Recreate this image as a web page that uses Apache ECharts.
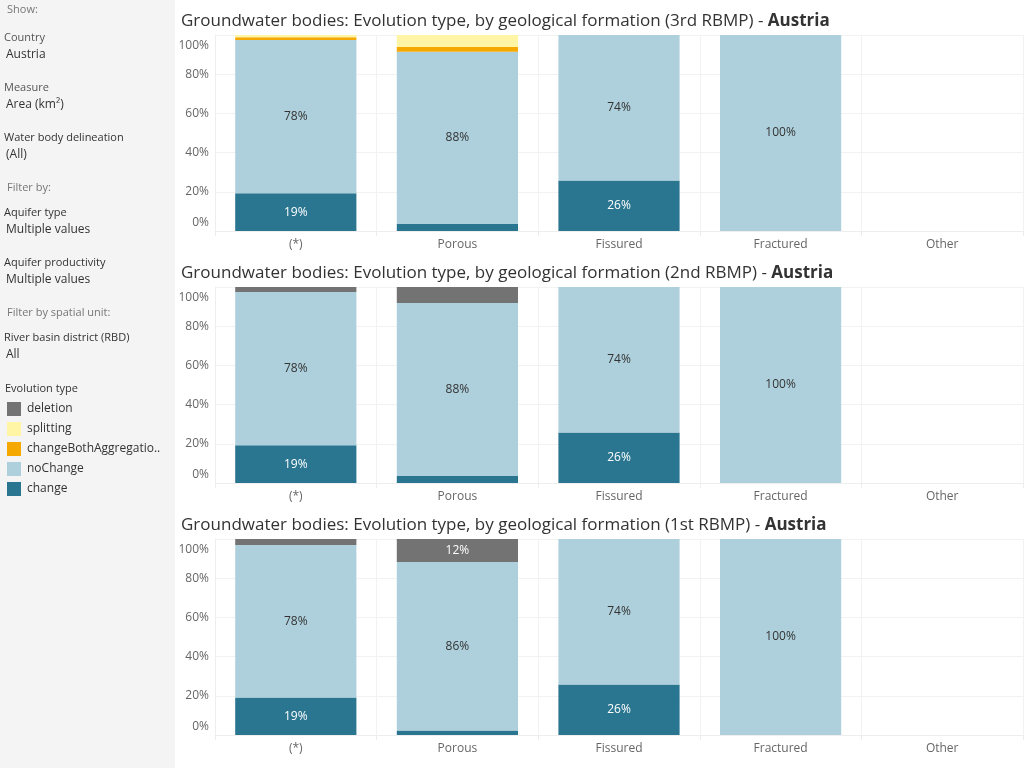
<!DOCTYPE html>
<html>
<head>
<meta charset="utf-8">
<script src="https://cdn.jsdelivr.net/npm/echarts@6/dist/echarts.min.js"></script>
<style>
  html, body { margin: 0; padding: 0; background: #fff; }
  #chart { width: 1024px; height: 768px; }
</style>
</head>
<body>
<div id="chart"></div>
<script>
// 类别与刻度
const categories = ['(*)', 'Porous', 'Fissured', 'Fractured', 'Other'];
const yTicks = [0, 20, 40, 60, 80, 100];
const plans = ['3rd RBMP', '2nd RBMP', '1st RBMP'];

// 3rd RBMP
const change3 = [19.3, 3.6, 25.8, 0, null];
const noChange3 = [78.2, 87.9, 74.2, 100, null];
const both3 = [1.3, 2.4, 0, 0, null];
const split3 = [1.2, 6.1, 0, 0, null];
const deletion3 = [0, 0, 0, 0, null];

// 2nd RBMP
const change2 = [19.3, 3.6, 25.8, 0, null];
const noChange2 = [78.2, 88.2, 74.2, 100, null];
const both2 = [0, 0, 0, 0, null];
const split2 = [0, 0, 0, 0, null];
const deletion2 = [2.5, 8.2, 0, 0, null];

// 1st RBMP
const change1 = [19.1, 2.3, 25.8, 0, null];
const noChange1 = [77.9, 86.0, 74.2, 100, null];
const both1 = [0, 0, 0, 0, null];
const split1 = [0, 0, 0, 0, null];
const deletion1 = [3.0, 11.7, 0, 0, null];

// 颜色
const COLORS = {
  deletion: '#737373',
  splitting: '#fff5a5',
  changeBoth: '#f5a800',
  noChange: '#aed0dc',
  change: '#2a7690'
};

const panelData = [
  { change: change3, noChange: noChange3, both: both3, split: split3, deletion: deletion3 },
  { change: change2, noChange: noChange2, both: both2, split: split2, deletion: deletion2 },
  { change: change1, noChange: noChange1, both: both1, split: split1, deletion: deletion1 }
];

const PANEL_TOP = 35, PANEL_H = 196, PANEL_STEP = 252;
const LEFT_W = 175;

const grids = [], xAxes = [], yAxes = [], titles = [], series = [];

function segLabel(dark) {
  return {
    show: true,
    position: 'inside',
    color: dark ? '#ffffff' : '#333333',
    fontSize: 12,
    fontFamily: 'Open Sans',
    formatter: p => (p.value >= 10 ? Math.round(p.value) + '%' : '')
  };
}

plans.forEach((plan, i) => {
  const top = PANEL_TOP + i * PANEL_STEP;
  grids.push({ left: 215, right: 1, top: top, height: PANEL_H });
  xAxes.push({
    type: 'category',
    gridIndex: i,
    data: categories,
    axisLine: { show: true, lineStyle: { color: '#eeeeee' } },
    axisTick: { show: true, length: 5, lineStyle: { color: '#eeeeee' } },
    splitLine: { show: true, lineStyle: { color: '#f2f2f2' } },
    axisLabel: { color: '#666666', fontSize: 12, margin: 8, fontFamily: 'Open Sans' }
  });
  yAxes.push({
    type: 'value',
    gridIndex: i,
    min: 0,
    max: 100,
    interval: 20,
    axisLine: { show: true, lineStyle: { color: '#eeeeee' } },
    axisTick: { show: false },
    splitLine: { show: true, lineStyle: { color: '#f2f2f2' } },
    axisLabel: {
      color: '#666666',
      fontSize: 12,
      margin: 6,
      lineHeight: 16,
      padding: [3, 0, 0, 0],
      fontFamily: 'Open Sans',
      formatter: v => (yTicks.includes(v) ? v + '%' : ''),
      verticalAlignMaxLabel: 'top',
      verticalAlignMinLabel: 'bottom'
    }
  });
  titles.push({
    text: '{n|Groundwater bodies: Evolution type, by geological formation (' + plan + ') - }{b|Austria}',
    left: 176,
    top: top - 27,
    textStyle: {
      fontWeight: 'normal',
      rich: {
        n: { fontSize: 17, color: '#333333', fontWeight: 'normal', fontFamily: 'Open Sans' },
        b: { fontSize: 17, color: '#333333', fontWeight: 'bold', fontFamily: 'Open Sans' }
      }
    }
  });

  const d = panelData[i];
  const stack = 'p' + i;
  const common = { type: 'bar', xAxisIndex: i, yAxisIndex: i, stack: stack, barWidth: '75%' };
  series.push(Object.assign({ name: 'change', data: d.change, itemStyle: { color: COLORS.change }, label: segLabel(true) }, common));
  series.push(Object.assign({ name: 'noChange', data: d.noChange, itemStyle: { color: COLORS.noChange }, label: segLabel(false) }, common));
  series.push(Object.assign({ name: 'changeBothAggregationSplitting', data: d.both, itemStyle: { color: COLORS.changeBoth }, label: segLabel(false) }, common));
  series.push(Object.assign({ name: 'splitting', data: d.split, itemStyle: { color: COLORS.splitting }, label: segLabel(false) }, common));
  series.push(Object.assign({ name: 'deletion', data: d.deletion, itemStyle: { color: COLORS.deletion }, label: segLabel(true) }, common));
});

// 左侧筛选面板
const sideTexts = [
  { t: 'Show:', x: 7, y: 10, c: '#777777', s: 11 },
  { t: 'Country', x: 4, y: 38, c: '#555555', s: 11 },
  { t: 'Austria', x: 6, y: 55, c: '#333333', s: 12 },
  { t: 'Measure', x: 4, y: 88, c: '#555555', s: 11 },
  { t: 'Area (km²)', x: 6, y: 105, c: '#333333', s: 12 },
  { t: 'Water body delineation', x: 4, y: 138, c: '#333333', s: 11 },
  { t: '(All)', x: 6, y: 155, c: '#333333', s: 12 },
  { t: 'Filter by:', x: 7, y: 188, c: '#777777', s: 11 },
  { t: 'Aquifer type', x: 4, y: 213, c: '#333333', s: 11 },
  { t: 'Multiple values', x: 6, y: 230, c: '#333333', s: 12 },
  { t: 'Aquifer productivity', x: 4, y: 263, c: '#333333', s: 11 },
  { t: 'Multiple values', x: 6, y: 280, c: '#333333', s: 12 },
  { t: 'Filter by spatial unit:', x: 7, y: 313, c: '#777777', s: 11 },
  { t: 'River basin district (RBD)', x: 4, y: 338, c: '#333333', s: 11 },
  { t: 'All', x: 6, y: 355, c: '#333333', s: 12 },
  { t: 'Evolution type', x: 5, y: 389, c: '#333333', s: 11 }
];

const graphic = [
  { type: 'rect', left: 0, top: 0, shape: { width: LEFT_W, height: 768 }, style: { fill: '#f4f4f4' }, z: -10 }
].concat(sideTexts.map(o => ({
  type: 'text',
  x: o.x,
  y: o.y,
  style: { text: o.t, fill: o.c, fontSize: o.s, fontFamily: 'Open Sans', verticalAlign: 'middle' }
})));

const chart = echarts.init(document.getElementById('chart'));
chart.setOption({
  animation: false,
  backgroundColor: '#ffffff',
  title: titles,
  graphic: graphic,
  legend: {
    orient: 'vertical',
    left: 2,
    top: 397,
    itemWidth: 14,
    itemHeight: 14,
    itemGap: 6,
    icon: 'rect',
    selectedMode: false,
    data: ['deletion', 'splitting', 'changeBothAggregationSplitting', 'noChange', 'change'],
    formatter: n => (n.length > 20 ? n.slice(0, 20) + '..' : n),
    textStyle: { color: '#333333', fontSize: 12, fontFamily: 'Open Sans', padding: [0, 0, 0, 1] }
  },
  grid: grids,
  xAxis: xAxes,
  yAxis: yAxes,
  series: series
});

window.addEventListener('resize', () => chart.resize());
</script>
</body>
</html>
